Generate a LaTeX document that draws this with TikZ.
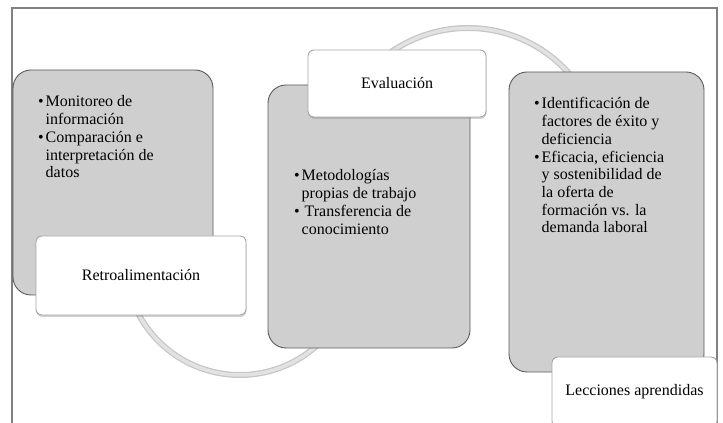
\documentclass[tikz,border=0pt]{standalone}
\usepackage{fontspec}
\setmainfont{Liberation Serif}
\usetikzlibrary{positioning,shadows}
\definecolor{body-gray}{HTML}{CFCFCF}
\definecolor{edge-gray}{HTML}{5A5A5A}
\definecolor{label-edge}{HTML}{A6A6A6}
\definecolor{frame-gray}{HTML}{808080}
\definecolor{arc-gray}{HTML}{E2E2E2}
\definecolor{arc-edge}{HTML}{C6C6C6}
\tikzstyle{cybodystyle}=[shape=rectangle,rounded corners=18pt,fill=body-gray,draw=edge-gray,line width=0.9pt,inner sep=0pt,outer sep=0pt]
\tikzstyle{cylabelstyle}=[shape=rectangle,rounded corners=6pt,fill=white,draw=label-edge,line width=0.9pt,inner sep=0pt,outer sep=0pt,drop shadow={opacity=0.35,shadow xshift=0.5pt,shadow yshift=-2pt}]
\tikzstyle{cyitemstyle}=[anchor=base west,inner sep=0pt,align=left]
\newcommand{\cybul}{\makebox[7.5pt][l]{\textbullet}}
\newcommand{\cybody}[5]{ \draw (#2,#3) node [style=cybodystyle,minimum width=#4pt,minimum height=#5pt] (#1) {}; }
\newcommand{\cylabel}[6]{ \draw (#2,#3) node [style=cylabelstyle,minimum width=#4pt,minimum height=#5pt] (#1) {#6}; }
\newcommand{\cyitems}[4]{ \draw (#2,#3) node [style=cyitemstyle] (#1) {\begin{tabular}[t]{@{}l@{}l@{}}#4\end{tabular}}; }
\newcommand{\cyarc}[4]{ \draw [arc-edge,line width=6pt] (#1) ++(#2:#4pt) arc [start angle=#2,end angle=#3,radius=#4pt]; \draw [arc-gray,line width=3.5pt] (#1) ++(#2:#4pt) arc [start angle=#2,end angle=#3,radius=#4pt]; }

\begin{document}
\begin{tikzpicture}[x=1pt,y=1pt,font=\fontsize{16}{17.7}\selectfont]
\useasboundingbox (0,0) rectangle (723,423);
\clip (0,0) rectangle (723,423);
\draw [frame-gray,line width=1.5pt] (12,-10) |- (717,415) -- (717,-10); %
\coordinate (uppercentre) at (468,260); %
\coordinate (lowercentre) at (240,163); %
\cyarc{uppercentre}{40}{125}{135} %
\cyarc{lowercentre}{200}{315}{115} %
\cybody{retrobody}{113}{240.5}{200}{225} %
\cybody{evalbody}{369}{206.5}{202}{263} %
\cybody{lessonbody}{606.5}{201}{195}{300} %
\cylabel{retro}{141}{147.5}{210}{79}{Retroalimentación} %
\cylabel{eval}{397}{339.5}{178}{67}{Evaluación} %
\cylabel{lesson}{634.5}{31}{165}{70}{Lecciones aprendidas} %
\cyitems{retroitems}{38}{316}{\cybul & Monitoreo de\\ & información\\ \cybul & Comparación e\\ & interpretación de\\ & datos} %
\cyitems{evalitems}{294}{242}{\cybul & Metodologías\\ & propias de trabajo\\ \cybul & \hspace{3pt}Transferencia de\\ & conocimiento} %
\cyitems{lessonitems}{534}{314}{\cybul & Identificación de\\ & factores de éxito y\\ & deficiencia\\ \cybul & Eficacia, eficiencia\\ & y sostenibilidad de\\ & la oferta de\\ & formación vs. la\\ & demanda laboral} %
\end{tikzpicture}
\end{document}
